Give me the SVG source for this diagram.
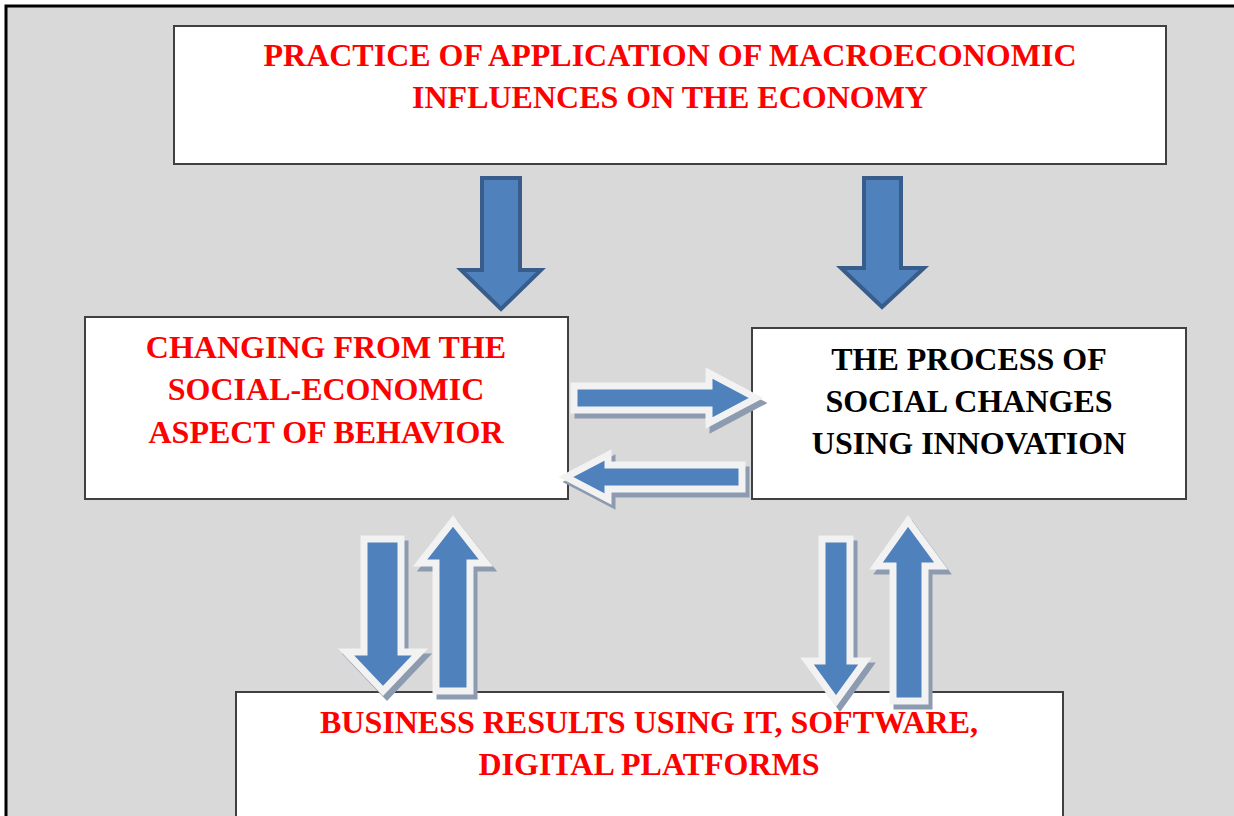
<svg xmlns="http://www.w3.org/2000/svg" width="1234" height="816" viewBox="0 0 1234 816">
<style>
.box{fill:#ffffff;stroke:#404040;stroke-width:2}
.t{font-family:"Liberation Serif","Times New Roman",serif;font-weight:bold;font-size:32px;text-anchor:middle}
.red{fill:#ff0000}
.blk{fill:#000000}
.dark{fill:#4f81bd;stroke:#385d8a;stroke-width:4;stroke-linejoin:miter}
.sh{fill:#8d9bb0;stroke:#8d9bb0;stroke-width:7;stroke-linejoin:miter}
.lt{fill:#4f81bd;stroke:#f2f2f2;stroke-width:7;stroke-linejoin:miter}
</style>
<defs>
<polygon id="aR" points="574,386 709,386 709,373 756,398 709,423 709,410 574,410"/>
<polygon id="aL" points="742,465 608,465 608,455 566,477 608,499 608,489 742,489"/>
<polygon id="aD1" points="364,539 401,539 401,652 420,652 383,691 346,652 364,652"/>
<polygon id="aU1" points="436,691 436,563 420,563 453,521 486,563 470,563 470,691"/>
<polygon id="aD2" points="822,539 850,539 850,661 865,661 836,701 807,661 822,661"/>
<polygon id="aU2" points="893,701 893,566 876,566 908,521 941,566 925,566 925,701"/>
</defs>
<rect x="0" y="0" width="1234" height="816" fill="#ffffff"/>
<rect x="6" y="6" width="1240" height="830" fill="#d9d9d9" stroke="#000000" stroke-width="3"/>
<g id="node-top">
<rect class="box" x="174" y="26" width="992" height="138"/>
<text class="t red" x="670" y="66">PRACTICE OF APPLICATION OF MACROECONOMIC</text>
<text class="t red" x="670" y="108">INFLUENCES ON THE ECONOMY</text>
</g>
<g id="node-left">
<rect class="box" x="85" y="317" width="483" height="182"/>
<text class="t red" x="326" y="358">CHANGING FROM THE</text>
<text class="t red" x="326" y="400">SOCIAL-ECONOMIC</text>
<text class="t red" x="326" y="443">ASPECT OF BEHAVIOR</text>
</g>
<g id="node-right">
<rect class="box" x="752" y="328" width="434" height="171"/>
<text class="t blk" x="969" y="370">THE PROCESS OF</text>
<text class="t blk" x="969" y="412">SOCIAL CHANGES</text>
<text class="t blk" x="969" y="454">USING INNOVATION</text>
</g>
<g id="node-bottom">
<rect class="box" x="236" y="692" width="827" height="140"/>
<text class="t red" x="649" y="733">BUSINESS RESULTS USING IT, SOFTWARE,</text>
<text class="t red" x="649" y="775">DIGITAL PLATFORMS</text>
</g>
<g id="connectors">
<polygon class="dark" points="482,178 520,178 520,270 541,270 501,309 461,270 482,270"/>
<polygon class="dark" points="864,178 901,178 901,268 924,268 882,307 841,268 864,268"/>
<use href="#aR" class="sh" transform="translate(4,5)"/>
<use href="#aR" class="lt"/>
<use href="#aL" class="sh" transform="translate(4,5)"/>
<use href="#aL" class="lt"/>
<use href="#aD1" class="sh" transform="translate(4,5)"/>
<use href="#aD1" class="lt"/>
<use href="#aU1" class="sh" transform="translate(4,5)"/>
<use href="#aU1" class="lt"/>
<use href="#aD2" class="sh" transform="translate(4,5)"/>
<use href="#aD2" class="lt"/>
<use href="#aU2" class="sh" transform="translate(4,5)"/>
<use href="#aU2" class="lt"/>
</g>
</svg>
